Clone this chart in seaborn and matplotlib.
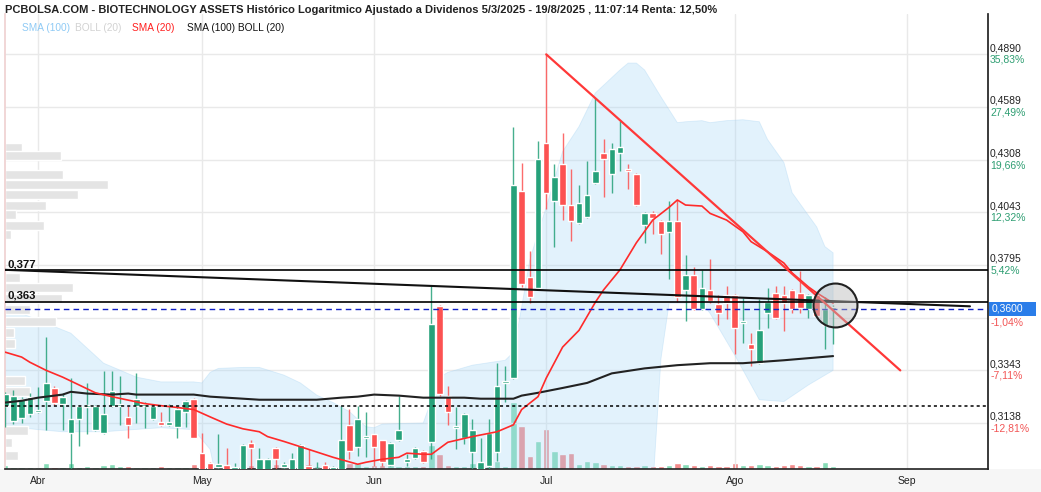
import numpy as np
import matplotlib
matplotlib.use("Agg")
import matplotlib.pyplot as plt
from matplotlib.patches import Rectangle
from matplotlib.ticker import NullLocator, NullFormatter
import seaborn as sns

sns.set_theme(style="white")
plt.rcParams['font.family'] = ['Liberation Sans', 'DejaVu Sans']

# daily candles, trading days 26/3/2025 .. 19/8/2025 (index 0..101)
opens = [.3204, .3146, .3158, .3173, .3181, .3223, .3274, .3212, .3102, .3154,
         .3200, .3113, .3102, .3204, .3204, .3161, .3204, .3204, .3154, .3142,
         .3131, .3124, .3181, .3231, .3026, .2990, .2975, .2982, .2950, .2940,
         .3062, .2950, .2950, .3044, .2975, .2950, .2950, .2979, .2950, .2982,
         .2965, .2960, .3131, .3048, .3080, .3095, .3073, .2982, .3073, .2993,
         .3008, .3033, .3066, .3611, .3243, .3120, .3083, .3029, .2960, .2979,
         .3029, .3293, .3312, .4150, .3741, .3692, .4393, .4099, .4283, .4079,
         .3992, .4020, .4191, .4340, .4232, .4340, .4262, .4232, .3982, .4038,
         .4001, .3950, .4001, .3683, .3750, .3598, .3683, .3620, .3661, .3661,
         .3541, .3450, .3372, .3580, .3670, .3661, .3683, .3670, .3598, .3661,
         .3529, .3598]
highs = [.3258, .3266, .3239, .3254, .3277, .3479, .3281, .3254, .3312, .3208,
         .3293, .3208, .3339, .3339, .3320, .3204, .3331, .3220, .3208, .3181,
         .3212, .3197, .3227, .3235, .3102, .2993, .3095, .3044, .2990, .3058,
         .3073, .3044, .3008, .3048, .2993, .3026, .3058, .3040, .2993, .2993,
         .2980, .3204, .3193, .3204, .3181, .3098, .3076, .3066, .3243, .3022,
         .3048, .3037, .3701, .3615, .3281, .3200, .3177, .3154, .3083, .3154,
         .3372, .3360, .4483, .4293, .3861, .4404, .4890, .4283, .4451, .4262,
         .4181, .4303, .4640, .4414, .4393, .4515, .4283, .4237, .4043, .4048,
         .4006, .4099, .4104, .3842, .3786, .3773, .3823, .3661, .3701, .3665,
         .3647, .3496, .3643, .3692, .3701, .3701, .3688, .3768, .3665, .3665,
         .3652, .3616]
lows = [.3124, .3134, .3138, .3161, .3177, .3113, .3208, .3113, .2968, .3051,
        .3095, .3109, .3098, .3200, .3131, .3083, .3138, .3120, .3150, .3128,
        .3128, .3083, .3124, .3080, .2930, .2920, .2950, .2940, .2930, .2930,
        .2950, .2940, .2940, .2960, .2960, .2940, .2940, .2950, .2930, .2950,
        .2950, .2950, .3004, .3015, .3011, .2979, .2979, .2979, .3069, .2979,
        .3004, .2990, .3004, .3243, .3131, .3040, .3058, .2968, .2950, .2968,
        .2997, .3220, .3308, .3696, .3625, .3688, .4058, .3880, .4006, .3908,
        .3987, .4015, .4186, .4119, .4140, .4247, .4160, .4074, .3898, .3940,
        .3847, .3732, .3629, .3549, .3593, .3593, .3625, .3529, .3558, .3409,
        .3454, .3360, .3368, .3516, .3558, .3504, .3580, .3580, .3562, .3562,
        .3429, .3450]
closes = [.3251, .3243, .3231, .3239, .3185, .3293, .3216, .3239, .3154, .3204,
          .3204, .3204, .3173, .3262, .3212, .3131, .3231, .3208, .3204, .3131,
          .3142, .3193, .3223, .3083, .2950, .2940, .2986, .2960, .2975, .3055,
          .3044, .3004, .3004, .3004, .2986, .3004, .3055, .2960, .2970, .2965,
          .2975, .3073, .3033, .3154, .3085, .3048, .2993, .3062, .3113, .3004,
          .3044, .2993, .3537, .3251, .3181, .3124, .3173, .3113, .2993, .3102,
          .3281, .3300, .4181, .3710, .3652, .4313, .4140, .4221, .4079, .4001,
          .4089, .4130, .4252, .4313, .4361, .4372, .4247, .4079, .4038, .4015,
          .3940, .4001, .3652, .3750, .3598, .3692, .3634, .3580, .3625, .3520,
          .3549, .3429, .3508, .3629, .3562, .3625, .3598, .3602, .3661, .3571,
          .3598, .3600]
volumes = [4, 2, 2, 2, 2, 6, 2, 2, 6, 2, 3, 2, 4, 5, 3, 3, 2, 2, 2, 3,
           2, 2, 2, 5, 12, 4, 5, 4, 3, 8, 4, 3, 3, 5, 3, 4, 6, 5, 3, 4,
           3, 10, 6, 6, 3, 4, 4, 5, 3, 3, 3, 3, 24, 15, 4, 3, 3, 6, 3, 3,
           8, 3, 67, 43, 13, 28, 40, 18, 15, 16, 5, 8, 7, 5, 4, 4, 3, 3, 4, 3,
           3, 4, 6, 5, 4, 3, 4, 3, 3, 6, 4, 4, 5, 4, 3, 4, 5, 4, 3, 3,
           7, 3]

month_idx = [4, 24, 45, 66, 89, 110]
month_lbl = ['Abr', 'May', 'Jun', 'Jul', 'Ago', 'Sep']

# indicators
sma20_idx = [0, 2, 3, 5, 7, 9, 11, 13, 17, 19, 21, 23, 25, 27, 29, 31, 32, 34, 37, 40,
             43, 44, 46, 48, 49, 51, 52, 54, 57, 60, 62, 63, 65, 66, 68, 70, 72, 73, 75, 77,
             79, 81, 82, 83, 85, 86, 88, 90, 91, 93, 95, 96, 98, 99, 101]
sma20_val = [.3417, .3397, .3376, .3343, .3316, .3285, .3254, .3239, .3212, .3204,
             .3197, .3189, .3161, .3134, .3116, .3105, .3087, .3069, .3040, .3011,
             .2986, .2993, .3004, .3011, .3026, .3022, .3022, .3066, .3087, .3105,
             .3131, .3189, .3239, .3312, .3438, .3508, .3629, .3683, .3773, .3898,
             .4006, .4068, .4104, .4079, .4074, .4038, .4006, .3950, .3903, .3856,
             .3804, .3759, .3696, .3670, .3625]
sma100_idx = [0, 2, 4, 7, 8, 10, 13, 15, 16, 20, 23, 24, 25, 27, 29, 31, 34, 38, 41, 43,
              45, 48, 51, 56, 58, 62, 63, 65, 68, 71, 74, 78, 82, 86, 90, 95, 101]
sma100_val = [.3216, .3223, .3235, .3247, .3258, .3251, .3247, .3251, .3247, .3247,
              .3247, .3243, .3239, .3235, .3231, .3227, .3227, .3227, .3235, .3239,
              .3247, .3243, .3235, .3235, .3231, .3231, .3243, .3254, .3273, .3293,
              .3331, .3351, .3364, .3372, .3372, .3384, .3401]
boll_up_idx = [0, 2, 8, 12, 16, 19, 23, 24, 25, 26, 29, 31, 34, 36, 38, 40, 42, 44, 45, 46,
               51, 53, 54, 57, 61, 62, 63, 64, 65, 66, 68, 70, 72, 75, 76, 77, 78, 80, 82, 83,
               85, 86, 88, 90, 92, 93, 95, 96, 99, 100, 101]
boll_up_val = [.3616, .3580, .3496, .3372, .3316, .3297, .3297, .3293, .3335, .3351,
               .3355, .3355, .3324, .3293, .3245, .3216, .3181, .3124, .3120, .3134,
               .3138, .3316, .3335, .3364, .3384, .3417, .3607, .3818, .3945, .4068,
               .4350, .4483, .4668, .4799, .4839, .4839, .4799, .4646, .4504, .4509,
               .4515, .4504, .4515, .4520, .4509, .4414, .4293, .4140, .3973, .3880,
               .3851]
boll_lo_idx = [0, 2, 4, 7, 12, 17, 19, 23, 25, 26, 30, 40, 50, 60, 70, 76, 79, 80, 81, 85,
               86, 89, 92, 95, 98, 101]
boll_lo_val = [.3109, .3120, .3113, .3105, .3105, .3116, .3120, .3113, .3040, .2900,
               .2800, .2750, .2700, .2600, .2400, .2700, .2900, .3390, .3625, .3625,
               .3580, .3405, .3227, .3220, .3285, .3343]

# volume by price (left profile)
prof_price = [.4374, .4329, .4234, .4183, .4130, .4079, .4034, .3982, .3936, .3739,
              .3692, .3645, .3596, .3545, .3500, .3454, .3302, .3258, .3109, .3064,
              .3017]
prof_vol = [17, 56, 58, 103, 73, 41, 11, 39, 6, 15, 68, 57, 25, 51, 9, 10, 20, 25, 23, 7,
            13]

# support / resistance and trend lines
lvl_hi, lvl_lo, last_px, lvl_dot = 0.377, 0.363, 0.3600, 0.3204
trend_blk_idx, trend_blk_val = [0, 117.7], [0.3773, 0.3611]
trend_red_idx, trend_red_val = [66, 109.2], [0.4890, 0.3343]

axis_px = [0.4890, 0.4589, 0.4308, 0.4043, 0.3795, 0.3562, 0.3343, 0.3138]
axis_lbl = ['0,4890', '0,4589', '0,4308', '0,4043', '0,3795', '', '0,3343', '0,3138']
axis_pct = ['35,83%', '27,49%', '19,66%', '12,32%', '5,42%', '', '-7,11%', '-12,81%']

GREEN, RED = '#26a17a', '#fc5252'
W, H = 1041, 492
fig = plt.figure(figsize=(W / 100, H / 100), dpi=100)
fig.patches.append(Rectangle((0, 0), 1, 23 / H, transform=fig.transFigure,
                             facecolor='#f6f6f6', edgecolor='none', zorder=-5))
rect = [5 / W, 23 / H, 983 / W, 455 / H]
axv = fig.add_axes(rect)
ax = fig.add_axes(rect, sharex=axv)
ax.patch.set_visible(False)

x = np.arange(len(opens))
o, h, l, c = map(np.array, (opens, highs, lows, closes))
up = c >= o

# volume bars behind everything
axv.bar(x, volumes, width=0.78, color=np.where(up, '#86dcb6', '#f38a8a'))
axv.set_ylim(0, 455)
axv.axis('off')
axv.patch.set_facecolor('white')
axv.patch.set_visible(True)

ax.set_yscale('log')
ax.set_ylim(0.29689, 0.51333)
ax.set_xlim(-0.03, 119.9)
ax.yaxis.set_minor_locator(NullLocator())
ax.yaxis.set_minor_formatter(NullFormatter())
ax.set_yticks(axis_px)
ax.set_yticklabels([])
ax.set_xticks(month_idx)
ax.set_xticklabels(month_lbl)
ax.tick_params(axis='x', length=0, pad=5, labelsize=7.5, colors='#222')
ax.tick_params(axis='y', length=0)
ax.grid(True, color='#e9e9e9', lw=1)
ax.set_axisbelow(True)
ax.spines['top'].set_visible(False)
ax.spines['left'].set_color('#efd2d2')
ax.spines['bottom'].set_color('#222')
ax.spines['bottom'].set_linewidth(1.2)
ax.spines['right'].set_color('#222')

# bollinger band
ax.fill(np.r_[boll_up_idx, boll_lo_idx[::-1]], np.r_[boll_up_val, boll_lo_val[::-1]],
        facecolor='#a8d8f8', alpha=0.33, edgecolor='#9fd0f2', lw=0.6, zorder=1)

# volume profile on the left
pv = np.array(prof_price)
ax.barh(pv, np.array(prof_vol) / 8.2, height=pv * 0.0108, left=-0.03,
        color='#e4e4e4', zorder=1.5)

# candles
cols = np.where(up, GREEN, RED)
ax.vlines(x, l, h, colors=cols, lw=1, alpha=0.85, zorder=3)
body = np.maximum(np.abs(c - o), 0.0008)
ax.bar(x, body, bottom=np.minimum(o, c), width=0.8, color=cols, zorder=3.5)

# moving averages
sns.lineplot(x=sma100_idx, y=sma100_val, ax=ax, color='#222', lw=1.5, zorder=4)
sns.lineplot(x=sma20_idx, y=sma20_val, ax=ax, color='#ff2a2a', lw=1.2, zorder=4)

# levels
ax.axhline(lvl_hi, color='black', lw=1.2, zorder=5)
ax.axhline(lvl_lo, color='black', lw=1.2, zorder=5)
ax.axhline(last_px, color='#1020c8', lw=1, ls=(0, (4, 3)), zorder=5)
ax.axhline(lvl_dot, color='black', lw=1.1, ls=(0, (2, 2)), zorder=5)
ax.plot(trend_blk_idx, trend_blk_val, color='#111', lw=1.5, zorder=5)
ax.plot(trend_red_idx, trend_red_val, color='#ff3838', lw=1.6, zorder=5)
ax.scatter([101.2], [0.3616], s=1000, facecolor=(0.72, 0.72, 0.72, 0.45),
           edgecolor='#222', lw=1.5, zorder=6)

ax.annotate('0,377', xy=(0, lvl_hi), xycoords=('axes fraction', 'data'), xytext=(2, 1),
            textcoords='offset points', fontsize=8.2, fontweight='bold', color='#111',
            va='bottom')
ax.annotate('0,363', xy=(0, lvl_lo), xycoords=('axes fraction', 'data'), xytext=(2, 1),
            textcoords='offset points', fontsize=8.2, fontweight='bold', color='#111',
            va='bottom')

# right axis labels
for p, t, pc in zip(axis_px, axis_lbl, axis_pct):
    if not t:
        continue
    ax.annotate(t, xy=(1, p), xycoords=('axes fraction', 'data'), xytext=(1.5, 4.5),
                textcoords='offset points', fontsize=7.5, color='#222', va='center',
                annotation_clip=False)
    ax.annotate(pc, xy=(1, p), xycoords=('axes fraction', 'data'), xytext=(1.5, -4),
                textcoords='offset points', fontsize=7.5, va='center',
                color='#2e9e72' if not pc.startswith('-') else '#f25555',
                annotation_clip=False)
ax.add_patch(Rectangle((1.001, last_px * np.exp(-7 / 831)), 0.048,
                       last_px * (np.exp(7 / 831) - np.exp(-7 / 831)),
                       transform=ax.get_yaxis_transform(), facecolor='#2b7de9',
                       edgecolor='none', clip_on=False, zorder=7))
ax.annotate('0,3600', xy=(1, last_px), xycoords=('axes fraction', 'data'), xytext=(2.5, 0),
            textcoords='offset points', fontsize=7.5, color='white', va='center',
            annotation_clip=False, zorder=8)
ax.annotate('-1,04%', xy=(1, last_px), xycoords=('axes fraction', 'data'), xytext=(1.5, -9.7),
            textcoords='offset points', fontsize=7.5, color='#f25555', va='center',
            annotation_clip=False)

fig.text(5 / W, 1 - 10 / H, 'PCBOLSA.COM - BIOTECHNOLOGY ASSETS Histórico Logaritmico Ajustado a '
         'Dividenos 5/3/2025 - 19/8/2025 , 11:07:14 Renta: 12,50%',
         fontsize=8, fontweight='bold', color='#222', va='center')
for tx, xs, col in [('SMA (100)', 22, '#8fcaf5'), ('BOLL (20)', 75, '#d2d2d2'),
                    ('SMA (20)', 132, '#ff1f1f'), ('SMA (100) BOLL (20)', 187, '#111')]:
    fig.text(xs / W, 1 - 28 / H, tx, fontsize=7.3, color=col, va='center')

fig.savefig('out.png', dpi=100)
